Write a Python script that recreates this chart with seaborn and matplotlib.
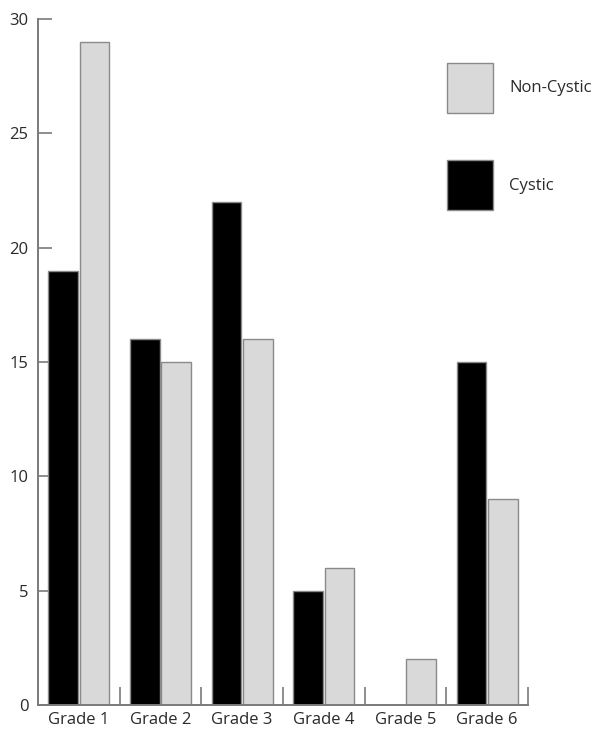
import matplotlib
matplotlib.use("Agg")
import matplotlib.pyplot as plt
import matplotlib.patches as mpatches
import numpy as np
import pandas as pd
import seaborn as sns

grades = ["Grade 1", "Grade 2", "Grade 3", "Grade 4", "Grade 5", "Grade 6"]
cystic = [19, 16, 22, 5, 0, 15]
non_cystic = [29, 15, 16, 6, 2, 9]
y_ticks = [0, 5, 10, 15, 20, 25, 30]

df = pd.DataFrame({
    "grade": grades * 2,
    "count": cystic + non_cystic,
    "type": ["Cystic"] * len(grades) + ["Non-Cystic"] * len(grades),
})

sns.set_style("white")
plt.rcParams["font.family"] = ["Open Sans", "DejaVu Sans"]

colors = {"Cystic": "#000000", "Non-Cystic": "#d9d9d9"}
edge = "#8a8a8a"
axis_col = "#7a7a7a"
text_col = "#2a2a2a"
fs = 12

fig = plt.figure(figsize=(6.11, 7.36), dpi=100)
ax = fig.add_axes([38 / 611, 31 / 736, 490 / 611, 686 / 736])

sns.barplot(data=df, x="grade", y="count", hue="type",
            hue_order=["Cystic", "Non-Cystic"], palette=colors,
            width=0.77, gap=0.06, edgecolor=edge, linewidth=1.0,
            legend=False, ax=ax)

ax.set_xlim(-0.5, len(grades) - 0.5)
ax.set_ylim(0, 30)
ax.set_yticks(y_ticks)
ax.set_xlabel("")
ax.set_ylabel("")

for side in ["top", "right"]:
    ax.spines[side].set_visible(False)
for side in ["left", "bottom"]:
    ax.spines[side].set_color(axis_col)
    ax.spines[side].set_linewidth(1.4)

ax.tick_params(axis="y", left=True, direction="in", length=10, width=1.2,
               color=axis_col, labelsize=fs, pad=7, labelcolor=text_col)
ax.tick_params(axis="x", which="major", bottom=True, length=0, labelsize=fs,
               pad=5, labelcolor=text_col)
ax.set_xticks(np.arange(0.5, len(grades) - 0.4, 1.0), minor=True)
ax.tick_params(axis="x", which="minor", bottom=True, direction="in", length=13,
               width=1.2, color=axis_col)

handles = [mpatches.Patch(facecolor=colors["Non-Cystic"], edgecolor=edge, label="Non-Cystic"),
           mpatches.Patch(facecolor=colors["Cystic"], edgecolor=edge, label="Cystic")]
fig.legend(handles=handles, loc="upper left", bbox_to_anchor=(440 / 611, 1 - 56 / 736),
           frameon=False, fontsize=fs, labelcolor=text_col,
           handlelength=2.75, handleheight=4.25,
           labelspacing=2.85, handletextpad=1.0, borderaxespad=0)

fig.savefig("out.png", dpi=100)
